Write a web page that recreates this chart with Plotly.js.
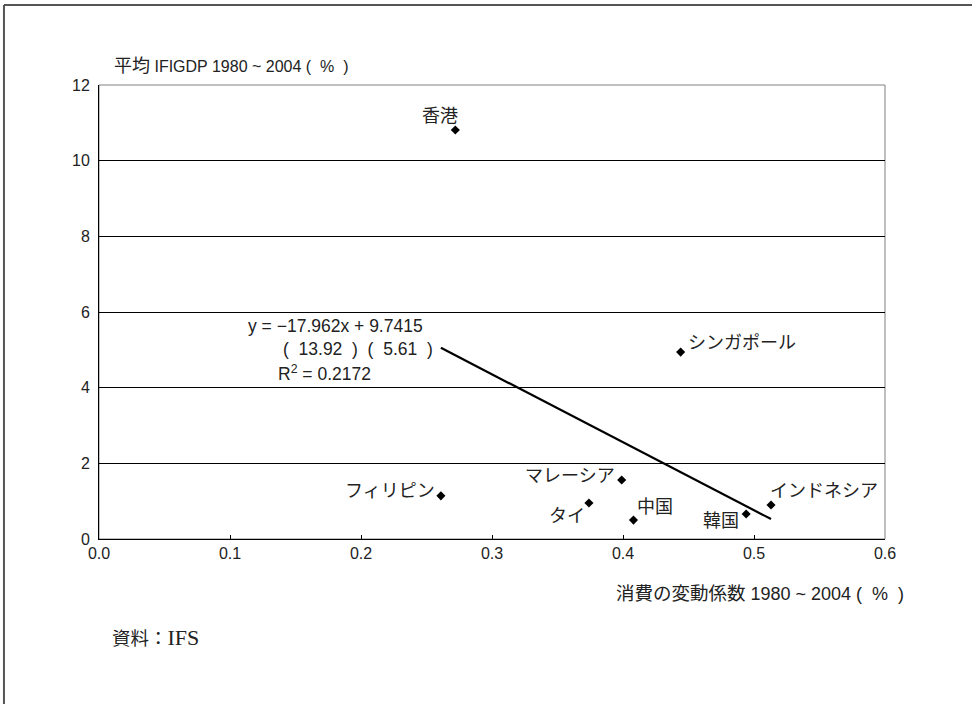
<!DOCTYPE html>
<html>
<head>
<meta charset="utf-8">
<script src="https://cdn.plot.ly/plotly-3.0.1.min.js"></script>
<style>html,body{margin:0;padding:0;background:#fff;}#chart{width:972px;height:704px;}</style>
</head>
<body>
<div id="chart"></div>
<script>
var countries = ["香港", "シンガポール", "フィリピン", "マレーシア", "タイ", "中国", "韓国", "インドネシア"];
var cvConsumption = [0.272, 0.444, 0.261, 0.399, 0.374, 0.408, 0.494, 0.513];
var ifiGdp = [10.81, 4.94, 1.14, 1.56, 0.95, 0.50, 0.66, 0.90];
var slope = -17.962;
var intercept = 9.7415;
var xTicks = [0, 0.1, 0.2, 0.3, 0.4, 0.5, 0.6];
var xTickText = ["0.0", "0.1", "0.2", "0.3", "0.4", "0.5", "0.6"];
var yTicks = [0, 2, 4, 6, 8, 10, 12];

// label placement (layout only)
var labelPlace = [
  {xa: "center", dx: -15, dy: 14},
  {xa: "left", dx: 5, dy: 9},
  {xa: "right", dx: -4, dy: 5},
  {xa: "right", dx: -5, dy: 4},
  {xa: "center", dx: -22, dy: -13},
  {xa: "left", dx: 2, dy: 13},
  {xa: "right", dx: -5, dy: -7},
  {xa: "left", dx: -3, dy: 14}
];

var jp = "Liberation Sans, Noto Sans CJK JP, sans-serif";
var sans = "Liberation Sans, Arial, sans-serif";
function big(s, px) { return '<span style="font-size:' + (px || 18) + 'px">' + s + '</span>'; }

var xMin = Math.min.apply(null, cvConsumption);
var xMax = Math.max.apply(null, cvConsumption);
var trend = {
  x: [xMin, xMax],
  y: [slope * xMin + intercept, slope * xMax + intercept],
  mode: "lines",
  line: {color: "#000", width: 2.2},
  hoverinfo: "skip",
  showlegend: false
};
var pts = {
  x: cvConsumption,
  y: ifiGdp,
  mode: "markers",
  marker: {symbol: "diamond", size: 7, color: "#000"},
  text: countries,
  showlegend: false
};

var annotations = countries.map(function (c, i) {
  return {
    x: cvConsumption[i], y: ifiGdp[i], xref: "x", yref: "y",
    text: c, showarrow: false,
    xanchor: labelPlace[i].xa, yanchor: "middle",
    xshift: labelPlace[i].dx, yshift: labelPlace[i].dy,
    font: {family: jp, size: 18, color: "#222"}
  };
});
annotations.push(
  {xref: "paper", yref: "paper", x: 0.0165, y: 1.042, xanchor: "left", yanchor: "middle",
   text: big("平均") + " IFIGDP 1980 ~ 2004 (  %  )", showarrow: false, font: {family: jp, size: 16, color: "#222"}},
  {xref: "paper", yref: "paper", x: 1.027, y: -0.119, xanchor: "right", yanchor: "middle",
   text: big("消費の変動係数", 18.5) + " 1980 ~ 2004 (  %  )", showarrow: false, font: {family: jp, size: 18, color: "#222"}},
  {xref: "paper", yref: "paper", x: 0.014, y: -0.216, xanchor: "left", yanchor: "middle",
   text: big("資料：", 18.5) + "IFS", showarrow: false, font: {family: "Liberation Serif, Noto Sans CJK JP, serif", size: 22, color: "#222"}},
  {xref: "paper", yref: "paper", x: 0.187, y: 0.469, xanchor: "left", yanchor: "middle",
   text: "y = −17.962x + 9.7415", showarrow: false, font: {family: sans, size: 17.5, color: "#222"}},
  {xref: "paper", yref: "paper", x: 0.232, y: 0.418, xanchor: "left", yanchor: "middle",
   text: "(  13.92  )  (  5.61  )", showarrow: false, font: {family: sans, size: 17.5, color: "#222"}},
  {xref: "paper", yref: "paper", x: 0.225, y: 0.366, xanchor: "left", yanchor: "middle",
   text: "R<sup>2</sup> = 0.2172", showarrow: false, font: {family: sans, size: 17.5, color: "#222"}}
);

var layout = {
  width: 972, height: 704,
  margin: {l: 99, r: 87, t: 85, b: 165, pad: 0},
  paper_bgcolor: "#fff", plot_bgcolor: "#fff",
  showlegend: false,
  font: {family: sans, size: 16, color: "#222"},
  xaxis: {
    range: [0, 0.6], tickvals: xTicks, ticktext: xTickText,
    showgrid: false, zeroline: false,
    showline: true, linecolor: "#000", linewidth: 1,
    ticks: "inside", ticklen: 4, tickcolor: "#000",
    tickfont: {family: sans, size: 16, color: "#222"}, fixedrange: true
  },
  yaxis: {
    range: [0, 12], tickvals: yTicks,
    showgrid: true, gridcolor: "#000", gridwidth: 1,
    zeroline: false,
    showline: true, linecolor: "#000", linewidth: 1,
    ticks: "inside", ticklen: 4, tickcolor: "#000",
    ticklabelstandoff: 5,
    tickfont: {family: sans, size: 16, color: "#222"}, fixedrange: true
  },
  shapes: [
    {type: "rect", xref: "paper", yref: "paper", x0: 0, x1: 1, y0: 0, y1: 1,
     line: {color: "#808080", width: 1}, layer: "below"},
    {type: "line", xref: "paper", yref: "paper", x0: -0.1209, x1: 1.12, y0: 1.176, y1: 1.176,
     line: {color: "#555", width: 2}},
    {type: "line", xref: "paper", yref: "paper", x0: -0.1209, x1: -0.1209, y0: 1.176, y1: -0.37,
     line: {color: "#555", width: 2}}
  ],
  annotations: annotations
};

Plotly.newPlot("chart", [trend, pts], layout, {displayModeBar: false, staticPlot: true});
</script>
</body>
</html>
